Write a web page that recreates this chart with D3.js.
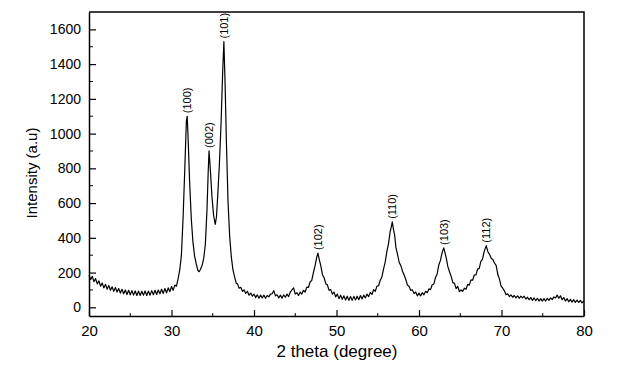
<!DOCTYPE html>
<meta charset="utf-8">
<style>
    body { margin: 0; background: #fff; }
    text { font-family: "Liberation Sans", Arial, sans-serif; fill: #000; }
</style>
<svg width="624" height="366"></svg>
<script src="https://d3js.org/d3.v7.min.js"></script>
<script>

    // XRD pattern: [2 theta, intensity]
    var xrd = [
        [20.0, 185], [20.2, 160], [20.4, 178], [20.6, 148], [20.8, 165], [21.0, 135], [21.2, 152], [21.4, 122],
        [21.6, 140], [21.8, 112], [22.0, 132], [22.2, 104], [22.4, 126], [22.6, 98], [22.8, 118], [23.0, 92],
        [23.2, 114], [23.4, 88], [23.6, 108], [23.8, 82], [24.0, 104], [24.2, 78], [24.4, 100], [24.6, 74],
        [24.8, 98], [25.0, 72], [25.2, 96], [25.4, 70], [25.6, 94], [25.8, 68], [26.0, 93], [26.2, 68],
        [26.4, 92], [26.6, 70], [26.8, 94], [27.0, 68], [27.2, 93], [27.4, 70], [27.6, 96], [27.8, 72],
        [28.0, 98], [28.2, 74], [28.4, 100], [28.6, 78], [28.8, 104], [29.0, 80], [29.2, 108], [29.4, 84],
        [29.6, 112], [29.8, 90], [30.0, 120], [30.2, 98], [30.4, 128], [30.6, 122], [30.8, 165], [31.0, 215],
        [31.2, 300], [31.4, 510], [31.6, 780], [31.8, 1070], [31.9, 1100], [32.0, 990], [32.2, 720], [32.4, 510],
        [32.6, 375], [32.8, 295], [33.0, 250], [33.2, 212], [33.35, 205], [33.5, 218], [33.7, 240], [33.9, 280],
        [34.1, 360], [34.3, 560], [34.45, 780], [34.55, 900], [34.7, 800], [34.9, 640], [35.1, 530], [35.3, 478],
        [35.45, 520], [35.6, 640], [35.8, 820], [36.0, 1050], [36.2, 1350], [36.35, 1530], [36.5, 1280], [36.65, 960],
        [36.85, 610], [37.05, 410], [37.25, 290], [37.45, 215], [37.65, 175], [37.85, 138], [38.0, 135], [38.2, 110],
        [38.4, 115], [38.6, 92], [38.8, 100], [39.0, 80], [39.2, 92], [39.4, 70], [39.6, 82], [39.8, 64],
        [40.0, 76], [40.2, 56], [40.4, 72], [40.6, 52], [40.8, 70], [41.0, 54], [41.2, 70], [41.4, 52],
        [41.6, 68], [41.8, 60], [42.0, 76], [42.2, 78], [42.4, 96], [42.6, 66], [42.8, 72], [43.0, 54],
        [43.2, 70], [43.4, 52], [43.6, 72], [43.8, 58], [44.0, 76], [44.2, 62], [44.4, 88], [44.6, 100],
        [44.8, 112], [45.0, 76], [45.2, 84], [45.4, 68], [45.6, 88], [45.8, 76], [46.0, 98], [46.2, 88],
        [46.4, 116], [46.6, 114], [46.8, 146], [47.0, 155], [47.2, 200], [47.4, 238], [47.6, 288], [47.75, 312],
        [47.9, 278], [48.1, 238], [48.3, 188], [48.5, 170], [48.7, 136], [48.9, 128], [49.1, 98], [49.3, 102],
        [49.5, 76], [49.7, 88], [49.9, 60], [50.1, 76], [50.3, 50], [50.5, 70], [50.7, 46], [50.9, 66],
        [51.1, 42], [51.3, 64], [51.5, 40], [51.7, 62], [51.9, 40], [52.1, 63], [52.3, 42], [52.5, 64],
        [52.7, 44], [52.9, 68], [53.1, 48], [53.3, 70], [53.5, 54], [53.7, 76], [53.9, 62], [54.1, 86],
        [54.3, 74], [54.5, 102], [54.7, 92], [54.9, 122], [55.1, 124], [55.3, 156], [55.5, 174], [55.7, 220],
        [55.9, 260], [56.1, 320], [56.3, 365], [56.5, 435], [56.65, 465], [56.76, 492], [56.9, 450], [57.05, 415],
        [57.2, 345], [57.4, 305], [57.6, 258], [57.8, 240], [58.0, 208], [58.2, 186], [58.4, 160], [58.6, 128],
        [58.8, 120], [59.0, 98], [59.2, 100], [59.4, 80], [59.6, 88], [59.8, 66], [60.0, 82], [60.2, 66],
        [60.4, 84], [60.6, 72], [60.8, 92], [61.0, 84], [61.2, 106], [61.4, 102], [61.6, 130], [61.8, 134],
        [62.0, 172], [62.2, 192], [62.4, 244], [62.6, 270], [62.8, 315], [63.0, 342], [63.15, 315], [63.3, 284],
        [63.5, 234], [63.7, 205], [63.9, 178], [64.1, 142], [64.3, 138], [64.5, 108], [64.7, 120], [64.9, 90],
        [65.1, 100], [65.3, 92], [65.5, 110], [65.7, 104], [65.9, 132], [66.1, 128], [66.3, 158], [66.5, 156],
        [66.7, 186], [66.9, 186], [67.1, 220], [67.3, 224], [67.5, 265], [67.7, 278], [67.9, 322], [68.15, 355],
        [68.35, 320], [68.55, 305], [68.75, 282], [68.95, 275], [69.15, 255], [69.35, 242], [69.55, 190], [69.75, 162],
        [69.95, 122], [70.15, 110], [70.35, 95], [70.55, 72], [70.75, 78], [70.95, 62], [71.15, 72], [71.35, 58],
        [71.55, 68], [71.75, 54], [71.95, 66], [72.15, 52], [72.35, 64], [72.55, 54], [72.75, 64], [72.95, 48],
        [73.15, 58], [73.35, 44], [73.55, 56], [73.75, 40], [73.95, 54], [74.15, 38], [74.35, 52], [74.55, 36],
        [74.75, 50], [74.95, 36], [75.15, 50], [75.35, 36], [75.55, 52], [75.75, 40], [75.95, 54], [76.15, 44],
        [76.35, 60], [76.55, 54], [76.75, 70], [76.95, 52], [77.15, 66], [77.35, 44], [77.55, 56], [77.75, 36],
        [77.95, 50], [78.15, 32], [78.35, 46], [78.55, 30], [78.75, 44], [78.95, 28], [79.15, 42], [79.35, 28],
        [79.55, 40], [79.75, 26], [80.0, 36]
    ];

    // Miller indices of the labelled reflections
    var peakLabels = ["(100)", "(002)", "(101)", "(102)", "(110)", "(103)", "(112)"];
    var peakTheta = [31.9, 34.55, 36.35, 47.75, 56.76, 63.0, 68.15];
    var peakHeight = [1100, 900, 1530, 312, 492, 342, 355];

    var xTicks = [20, 30, 40, 50, 60, 70, 80],
        xMinor = [25, 35, 45, 55, 65, 75],
        yTicks = [0, 200, 400, 600, 800, 1000, 1200, 1400, 1600],
        yMinor = [100, 300, 500, 700, 900, 1100, 1300, 1500];

    var svg = d3.select("svg"),
        margin = { top: 12, right: 40, bottom: 50, left: 89 },
        width = 624 - margin.left - margin.right,
        height = 366 - margin.top - margin.bottom;

    var x = d3.scaleLinear().domain([20, 80]).range([0, width]);
    var y = d3.scaleLinear().domain([-50, 1700]).range([height, 0]);

    var g = svg.append("g").attr("transform", "translate(" + margin.left + "," + margin.top + ")");

    // the pattern
    var line = d3.line()
        .x(function (d) { return x(d[0]); })
        .y(function (d) { return y(d[1]); });

    g.append("path")
        .datum(xrd)
        .attr("fill", "none")
        .attr("stroke", "#000")
        .attr("stroke-width", 1.2)
        .attr("stroke-linejoin", "round")
        .attr("d", line);

    // axes, ticks pointing inward like Origin
    var xAxis = g.append("g").attr("transform", "translate(0," + height + ")")
        .call(d3.axisBottom(x).tickValues(xTicks).tickSizeInner(-6).tickSizeOuter(0).tickPadding(9));
    xAxis.append("g").selectAll("line").data(xMinor).enter().append("line")
        .attr("x1", x).attr("x2", x).attr("y1", 0).attr("y2", -3)
        .attr("stroke", "#000");

    var yAxis = g.append("g")
        .call(d3.axisLeft(y).tickValues(yTicks).tickFormat(d3.format("d"))
            .tickSizeInner(-7).tickSizeOuter(0).tickPadding(8));
    yAxis.append("g").selectAll("line").data(yMinor).enter().append("line")
        .attr("y1", y).attr("y2", y).attr("x1", 0).attr("x2", 4)
        .attr("stroke", "#000");

    g.selectAll(".domain").attr("stroke-width", 1.5);
    g.selectAll(".tick line").attr("stroke-width", 1.2);
    xAxis.selectAll(".tick text").style("font-size", "15px");
    yAxis.selectAll(".tick text").style("font-size", "14px");

    // top and right frame
    g.append("path")
        .attr("d", "M0,0H" + width + "V" + height)
        .attr("fill", "none")
        .attr("stroke", "#000")
        .attr("stroke-width", 1.5);

    // peak labels, written upward just above each peak
    g.selectAll(".peak").data(peakLabels).enter().append("text")
        .attr("class", "peak")
        .attr("transform", function (d, i) {
            return "translate(" + x(peakTheta[i]) + "," + (y(peakHeight[i]) - 3) + ") rotate(-90)";
        })
        .attr("dy", "0.35em")
        .style("font-size", "11px")
        .text(function (d) { return d; });

    // axis titles
    svg.append("text")
        .attr("x", 337).attr("y", 357)
        .attr("text-anchor", "middle")
        .style("font-size", "17px")
        .text("2 theta (degree)");

    svg.append("text")
        .attr("transform", "translate(37,173) rotate(-90)")
        .attr("text-anchor", "middle")
        .style("font-size", "15px")
        .text("Intensity (a.u)");

</script>
